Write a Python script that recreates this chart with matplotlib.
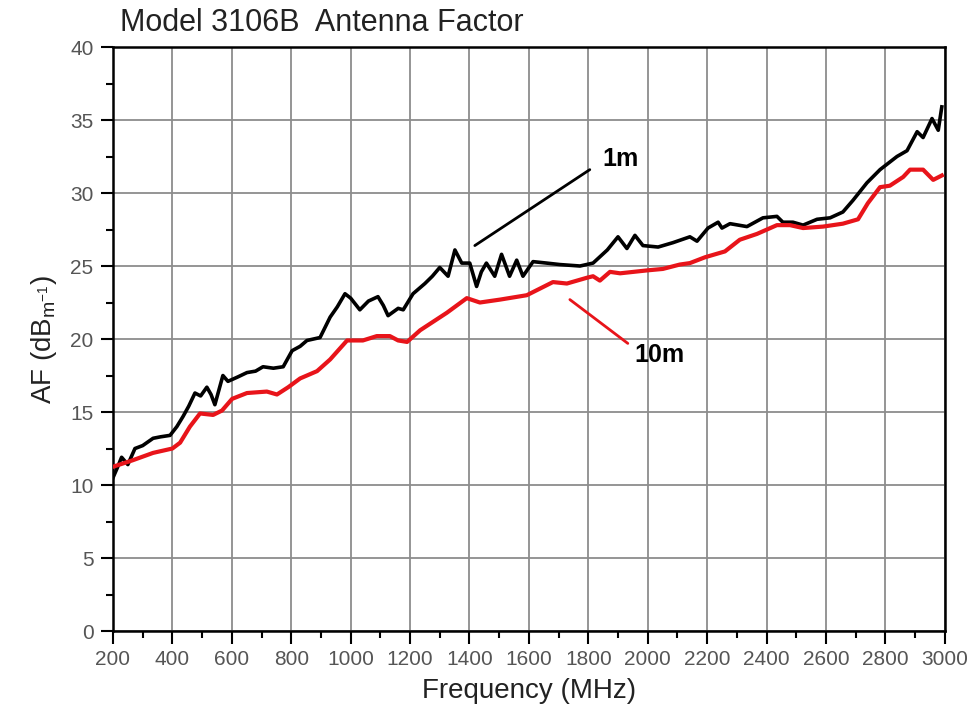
import matplotlib
matplotlib.use("Agg")
import matplotlib.pyplot as plt
from matplotlib.ticker import MultipleLocator

plt.rcParams['font.family'] = ['Liberation Sans', 'DejaVu Sans']

freq_1m = [200, 215, 229, 250, 274, 300, 335, 360, 392, 415, 436, 455, 476, 495, 516, 530, 543, 570, 587,
           620, 651, 680, 705, 740, 773, 803, 830, 853, 897, 931, 955,
           981, 1000, 1031, 1060, 1092, 1110, 1126, 1160, 1177, 1210, 1250, 1275, 1300, 1328, 1351, 1374,
           1401, 1424, 1440, 1457, 1485, 1508, 1535, 1559, 1580, 1614, 1660, 1704, 1772, 1816, 1864,
           1900, 1930, 1957, 1984, 2035, 2085, 2142, 2166, 2203, 2237, 2250, 2277, 2334, 2388, 2435,
           2455, 2489, 2523, 2570, 2614, 2657, 2691, 2738, 2782, 2839, 2873, 2907, 2927, 2957, 2978, 2990]
af_1m = [10.5, 11.2, 11.9, 11.4, 12.5, 12.7, 13.2, 13.3, 13.4, 14.0, 14.7, 15.4, 16.3, 16.1, 16.7, 16.2,
         15.5, 17.5, 17.1, 17.4, 17.7, 17.8, 18.1, 18.0, 18.1, 19.2, 19.5, 19.9, 20.1, 21.5, 22.2,
         23.1, 22.8, 22.0, 22.6, 22.9, 22.3, 21.6, 22.1, 22.0, 23.1, 23.8, 24.3, 24.9, 24.3, 26.1, 25.2,
         25.2, 23.6, 24.6, 25.2, 24.3, 25.8, 24.3, 25.4, 24.3, 25.3, 25.2, 25.1, 25.0, 25.2, 26.1,
         27.0, 26.2, 27.1, 26.4, 26.3, 26.6, 27.0, 26.7, 27.6, 28.0, 27.6, 27.9, 27.7, 28.3, 28.4,
         28.0, 28.0, 27.8, 28.2, 28.3, 28.7, 29.5, 30.7, 31.6, 32.5, 32.9, 34.2, 33.8, 35.1, 34.3, 35.9]

freq_10m = [200, 267, 335, 400, 426, 459, 493, 537, 567, 601, 651, 718, 752, 790, 830, 887, 931, 988,
            1041, 1088, 1132, 1160, 1190, 1234, 1324, 1391, 1435, 1503, 1593, 1681, 1728, 1796, 1816,
            1839, 1873, 1907, 1998, 2051, 2108, 2142, 2193, 2260, 2310, 2368, 2435, 2479, 2523, 2590,
            2657, 2708, 2741, 2782, 2815, 2860, 2883, 2927, 2961, 2990]
af_10m = [11.25, 11.7, 12.2, 12.5, 12.9, 14.0, 14.9, 14.8, 15.1, 15.9, 16.3, 16.4, 16.2, 16.7, 17.3,
          17.8, 18.6, 19.9, 19.9, 20.2, 20.2, 19.9, 19.8, 20.6, 21.8, 22.8, 22.5, 22.7, 23.0, 23.9, 23.8,
          24.2, 24.3, 24.0, 24.6, 24.5, 24.7, 24.8, 25.1, 25.2, 25.6, 26.0, 26.8, 27.2, 27.8, 27.8, 27.6,
          27.7, 27.9, 28.2, 29.3, 30.4, 30.5, 31.1, 31.6, 31.6, 30.9, 31.2]

x_ticks = list(range(200, 3001, 200))
y_ticks = list(range(0, 41, 5))

fig = plt.figure(figsize=(9.74, 7.2), dpi=100)
ax = fig.add_axes([0.116, 0.1236, 0.854, 0.8111])

ax.plot(freq_1m, af_1m, color='black', lw=2.6, zorder=3)
ax.plot(freq_10m, af_10m, color='#e8141a', lw=3.0, zorder=3)

ax.set_xlim(200, 3000)
ax.set_ylim(0, 40)
ax.set_xticks(x_ticks)
ax.set_yticks(y_ticks)
ax.xaxis.set_minor_locator(MultipleLocator(100))
ax.yaxis.set_minor_locator(MultipleLocator(2.5))
ax.grid(True, which='major', color='#8c8c8c', lw=1.3)
ax.set_axisbelow(True)
ax.tick_params(which='major', direction='out', length=9, width=1.5, labelsize=15,
               labelcolor='#555555', pad=5)
ax.tick_params(which='minor', direction='out', length=5, width=1.5)
for s in ax.spines.values():
    s.set_linewidth(1.8)

ax.set_xlabel('Frequency (MHz)', fontsize=20, color='#222222', labelpad=6)
ax.set_ylabel('AF (dB$_{\\mathregular{m^{-1}}}$)', fontsize=20, color='#222222', labelpad=8)
fig.text(0.123, 0.968, 'Model 3106B  Antenna Factor', fontsize=22, color='#222222', va='center')

# annotation leader lines
ax.annotate('', xy=(1418, 26.4), xytext=(1805, 31.6),
            arrowprops=dict(arrowstyle='-', color='black', lw=2.0, shrinkA=0, shrinkB=0))
ax.text(1907, 32.3, '1m', fontsize=18, fontweight='bold', ha='center', va='center')
ax.annotate('', xy=(1738, 22.7), xytext=(1933, 19.7),
            arrowprops=dict(arrowstyle='-', color='#e8141a', lw=2.0, shrinkA=0, shrinkB=0))
ax.text(2041, 18.9, '10m', fontsize=18, fontweight='bold', ha='center', va='center')

fig.savefig('out.png', dpi=100, facecolor='white')
